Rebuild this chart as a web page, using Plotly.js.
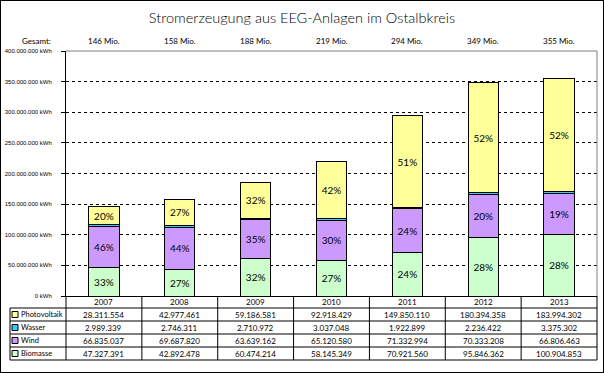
<!DOCTYPE html>
<html>
<head>
<meta charset="utf-8">
<script src="https://cdn.plot.ly/plotly-3.0.1.min.js"></script>
<style>
  html, body { margin: 0; padding: 0; background: #fff; }
  #wrap { position: relative; width: 604px; height: 373px; }
  #chart { position: absolute; left: 0; top: 0; width: 604px; height: 373px; }
  #frame { position: absolute; left: 0; top: 0; width: 604px; height: 373px; box-sizing: border-box; border: 1px solid #000; pointer-events: none; }
</style>
</head>
<body>
<div id="wrap"><div id="chart"></div><div id="frame"></div></div>
<script>
// ---- data ----
const years = ['2007', '2008', '2009', '2010', '2011', '2012', '2013'];
const photovoltaik = [28311554, 42977461, 59186581, 92918429, 149850110, 180394358, 183994302];
const wasser = [2989339, 2746311, 2710972, 3037048, 1922899, 2236422, 3375302];
const wind = [66835037, 69687820, 63639162, 65120580, 71332994, 70333208, 66806463];
const biomasse = [47327391, 42892478, 60474214, 58145349, 70921560, 95846362, 100904853];
const pctPV = ['20%', '27%', '32%', '42%', '51%', '52%', '52%'];
const pctWind = ['46%', '44%', '35%', '30%', '24%', '20%', '19%'];
const pctBio = ['33%', '27%', '32%', '27%', '24%', '28%', '28%'];
const totals = ['146 Mio.', '158 Mio.', '188 Mio.', '219 Mio.', '294 Mio.', '349 Mio.', '355 Mio.'];
const seriesNames = ['Photovoltaik', 'Wasser', 'Wind', 'Biomasse'];

// ---- styling / geometry ----
const colors = { Photovoltaik: '#FFFF99', Wasser: '#33CCFF', Wind: '#CC99FF', Biomasse: '#CCFFCC' };
const FONT = 'Lato, "Open Sans", sans-serif';
const W = 604, H = 373;
const L = 66, R = 597, T = 51, B = 296;
const pxX = x => (x - L) / (R - L);
const pxY = y => (B - y) / (B - T);

function fmt(n) { return String(n).replace(/\B(?=(\d{3})+(?!\d))/g, '.'); }

function barTrace(name, values, text) {
  return {
    type: 'bar', name: name, x: years, y: values,
    width: 0.4,
    marker: { color: colors[name], line: { color: '#000', width: 1 } },
    text: text, texttemplate: text ? '%{text}' : '',
    textposition: text ? 'inside' : 'none',
    insidetextanchor: 'middle',
    constraintext: 'none',
    textfont: { family: FONT, size: 10, color: '#000' },
    hoverinfo: 'skip', showlegend: false
  };
}

const data = [
  barTrace('Biomasse', biomasse, pctBio),
  barTrace('Wind', wind, pctWind),
  barTrace('Wasser', wasser, null),
  barTrace('Photovoltaik', photovoltaik, pctPV)
];

// ---- table ----
const shapes = [];
const annotations = [];
const lineBlack = { color: '#000', width: 1 };
shapes.push({ type: 'line', xref: 'paper', yref: 'paper', x0: 0, x1: 1, y0: 1, y1: 1, line: { color: '#808080', width: 1 } });
shapes.push({ type: 'line', xref: 'paper', yref: 'paper', x0: 1, x1: 1, y0: 0, y1: 1, line: { color: '#808080', width: 1 } });

const rowTops = [296, 308, 321, 334, 347, 360];
for (let k = 1; k < rowTops.length; k++) {
  shapes.push({ type: 'line', xref: 'paper', yref: 'paper', x0: pxX(10), x1: pxX(R), y0: pxY(rowTops[k]), y1: pxY(rowTops[k]), line: lineBlack });
}
shapes.push({ type: 'line', xref: 'paper', yref: 'paper', x0: pxX(10), x1: pxX(10), y0: pxY(308), y1: pxY(360), line: lineBlack });
shapes.push({ type: 'line', xref: 'paper', yref: 'paper', x0: 0, x1: 0, y0: pxY(296), y1: pxY(360), line: lineBlack });
shapes.push({ type: 'line', xref: 'paper', yref: 'paper', x0: 1, x1: 1, y0: pxY(296), y1: pxY(360), line: lineBlack });
for (let i = 0; i < years.length - 1; i++) {
  shapes.push({ type: 'line', xref: 'x', yref: 'paper', x0: i + 0.5, x1: i + 0.5, y0: pxY(296), y1: pxY(360), line: lineBlack });
}

const cellFont = { family: FONT, size: 8, color: '#000' };
const labelFont = { family: FONT, size: 7.5, color: '#000' };
years.forEach((yr, i) => {
  annotations.push({ xref: 'x', yref: 'paper', x: i, y: pxY(302), text: yr, showarrow: false, xanchor: 'center', yanchor: 'middle', font: cellFont });
});
const rowsData = { Photovoltaik: photovoltaik, Wasser: wasser, Wind: wind, Biomasse: biomasse };
seriesNames.forEach((name, r) => {
  const yc = (rowTops[r + 1] + rowTops[r + 2]) / 2;
  shapes.push({ type: 'rect', xref: 'paper', yref: 'paper', x0: pxX(12), x1: pxX(18), y0: pxY(yc - 3), y1: pxY(yc + 3), fillcolor: colors[name], line: { color: '#000', width: 1 } });
  annotations.push({ xref: 'paper', yref: 'paper', x: pxX(19), y: pxY(yc), text: name, showarrow: false, xanchor: 'left', yanchor: 'middle', font: labelFont });
  rowsData[name].forEach((v, i) => {
    annotations.push({ xref: 'x', yref: 'paper', x: i, y: pxY(yc), text: fmt(v), showarrow: false, xanchor: 'center', yanchor: 'middle', font: cellFont });
  });
});

// ---- totals row ----
annotations.push({ xref: 'paper', yref: 'paper', x: pxX(36), y: pxY(41), text: 'Gesamt:', showarrow: false, xanchor: 'center', yanchor: 'middle', font: cellFont });
totals.forEach((t, i) => {
  annotations.push({ xref: 'x', yref: 'paper', x: i, y: pxY(41), text: t, showarrow: false, xanchor: 'center', yanchor: 'middle', font: cellFont });
});

const layout = {
  width: W, height: H,
  margin: { l: L, r: W - R, t: T, b: H - B, pad: 0 },
  paper_bgcolor: '#fff', plot_bgcolor: '#fff',
  separators: ',.',
  barmode: 'stack',
  showlegend: false,
  title: { text: 'Stromerzeugung aus EEG-Anlagen im Ostalbkreis', x: 302 / W, xanchor: 'center', y: 1 - 18 / H, yanchor: 'middle', font: { family: FONT, size: 14.5, weight: 300, color: '#000' } },
  xaxis: {
    type: 'category', range: [-0.5, 6.5], showticklabels: false, ticks: '',
    showline: true, linecolor: '#000', linewidth: 1, showgrid: false, zeroline: false, fixedrange: true
  },
  yaxis: {
    range: [0, 400000000], dtick: 50000000, tick0: 0,
    tickformat: ',d', ticksuffix: ' kWh',
    tickfont: { family: '"Liberation Sans", Arial, sans-serif', size: 6, color: '#000' },
    ticks: 'outside', ticklen: 4, tickcolor: '#000', tickwidth: 1, ticklabelstandoff: 8,
    showline: true, linecolor: '#000', linewidth: 1,
    showgrid: true, gridcolor: '#000', gridwidth: 1, griddash: 'dot',
    zeroline: false, fixedrange: true
  },
  shapes: shapes,
  annotations: annotations
};

Plotly.newPlot('chart', data, layout, { displayModeBar: false, staticPlot: true });
</script>
</body>
</html>
